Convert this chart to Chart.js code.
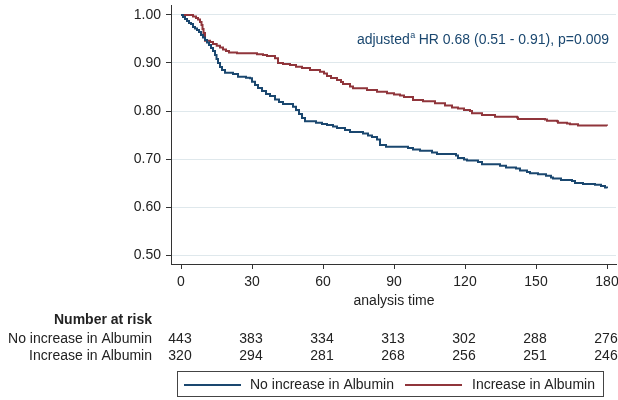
<!DOCTYPE html>
<html>
<head>
<meta charset="utf-8">
<script src="https://cdn.jsdelivr.net/npm/chart.js@4/dist/chart.umd.min.js"></script>
<style>
  html, body { margin: 0; padding: 0; background: #fff; }
  canvas { display: block; }
</style>
</head>
<body>
<canvas id="c" width="618" height="400" style="width:618px;height:400px"></canvas>
<script>
// ---- data ----
const seriesNames = ["No increase in Albumin", "Increase in Albumin"];
const xTicks = [0, 30, 60, 90, 120, 150, 180];
const yTicks = [0.50, 0.60, 0.70, 0.80, 0.90, 1.00];
const axisTitle = "analysis time";
const riskTitle = "Number at risk";
const riskNoIncrease = [443, 383, 334, 313, 302, 288, 276];
const riskIncrease = [320, 294, 281, 268, 256, 251, 246];

const timeNoIncrease = [0, 0.85, 1.69, 2.54, 3.38, 4.23, 5.07, 5.92, 6.76, 7.61, 8.45, 9.30, 10.14, 10.99, 11.83, 12.68, 13.52, 14.37, 15.0, 15.63, 16.48, 17.32, 18.59, 21.97, 24.08, 27.46, 29.15, 30.0, 31.27, 32.54, 34.23, 35.92, 37.61, 39.72, 41.41, 43.1, 47.32, 48.59, 49.86, 51.13, 52.39, 57.04, 59.58, 61.69, 64.23, 65.92, 69.3, 71.41, 76.9, 79.01, 80.7, 82.82, 84.08, 86.62, 95.92, 98.03, 100.99, 106.06, 108.17, 116.2, 117.04, 119.58, 120.85, 125.49, 127.18, 134.79, 137.32, 141.55, 143.24, 146.2, 147.46, 150.85, 154.23, 156.34, 157.18, 160.56, 165.21, 166.48, 169.86, 174.93, 177.46, 179.15, 180];
const survNoIncrease = [1, 0.9958, 0.9917, 0.9875, 0.9833, 0.9813, 0.975, 0.9719, 0.9688, 0.9646, 0.9583, 0.9531, 0.9479, 0.9427, 0.9375, 0.9313, 0.925, 0.9167, 0.9083, 0.9, 0.8917, 0.8854, 0.8798, 0.8771, 0.8715, 0.8694, 0.8681, 0.861, 0.8542, 0.8479, 0.8417, 0.8354, 0.8313, 0.824, 0.8188, 0.8146, 0.809, 0.8021, 0.7938, 0.7854, 0.7785, 0.7756, 0.7729, 0.7708, 0.7677, 0.7646, 0.7604, 0.7563, 0.7531, 0.749, 0.7458, 0.7406, 0.7292, 0.7256, 0.7229, 0.7198, 0.7173, 0.7135, 0.7104, 0.7073, 0.7021, 0.699, 0.6969, 0.6938, 0.689, 0.686, 0.6823, 0.6802, 0.676, 0.6729, 0.6702, 0.6681, 0.6652, 0.6615, 0.6594, 0.6563, 0.6542, 0.65, 0.6479, 0.6465, 0.6438, 0.6406, 0.639];

const timeIncrease = [0, 5.07, 6.34, 7.18, 8.03, 8.66, 9.08, 9.51, 10.14, 12.25, 13.52, 15.08, 16.48, 17.75, 19.01, 20.28, 23.66, 32.11, 34.65, 36.34, 39.72, 40.99, 43.1, 46.06, 48.59, 51.13, 54.51, 58.73, 60.42, 61.69, 63.38, 65.92, 67.61, 68.45, 71.41, 72.68, 78.59, 82.82, 87.04, 90.0, 92.54, 94.23, 98.03, 102.25, 107.32, 111.55, 114.51, 117.04, 119.58, 122.11, 122.96, 127.18, 132.68, 141.97, 142.39, 153.8, 154.65, 158.87, 159.3, 163.1, 164.37, 167.75, 180];
const survIncrease = [1, 0.9969, 0.9938, 0.9906, 0.9854, 0.9792, 0.9708, 0.9625, 0.9465, 0.9438, 0.9396, 0.936, 0.9323, 0.9281, 0.925, 0.9219, 0.9202, 0.9183, 0.9167, 0.9146, 0.9098, 0.9, 0.8979, 0.8958, 0.8923, 0.8896, 0.8854, 0.8819, 0.8781, 0.8729, 0.8688, 0.8646, 0.8604, 0.8563, 0.851, 0.8473, 0.8438, 0.8402, 0.8369, 0.8344, 0.8323, 0.8292, 0.8229, 0.8204, 0.816, 0.8115, 0.8073, 0.8052, 0.8021, 0.8, 0.7952, 0.7917, 0.7881, 0.7865, 0.7833, 0.7823, 0.7798, 0.7785, 0.7756, 0.774, 0.7723, 0.7698, 0.7694];

const hrPrefix = "adjusted";
const hrSup = "a";
const hrText = " HR 0.68 (0.51 - 0.91), p=0.009";

// ---- styles ----
const NAVY = "#1a476f";
const MAROON = "#90353b";
const FONT = "'Liberation Sans', Arial, Helvetica, sans-serif";
const FS = 14;
const TXT = "#222";

function toPoints(t, s) { return t.map((v, i) => ({ x: v, y: s[i] })); }

const overlay = {
  id: "overlay",
  afterDraw(chart) {
    const ctx = chart.ctx;
    const xs = chart.scales.x;
    ctx.save();
    ctx.fillStyle = TXT;
    ctx.textBaseline = "middle";
    const f = FS + "px " + FONT;
    // axis title
    ctx.font = f;
    ctx.textAlign = "center";
    ctx.fillText(axisTitle, (xs.getPixelForValue(0) + xs.getPixelForValue(180)) / 2, 301);
    // risk table
    ctx.textAlign = "right";
    ctx.font = "bold " + f;
    ctx.fillText(riskTitle, 152, 320);
    ctx.font = f;
    ctx.fillText(seriesNames[0], 152, 339);
    ctx.fillText(seriesNames[1], 152, 356);
    ctx.textAlign = "center";
    xTicks.forEach((t, i) => {
      const px = xs.getPixelForValue(t) - 1;
      ctx.fillText(String(riskNoIncrease[i]), px, 339);
      ctx.fillText(String(riskIncrease[i]), px, 356);
    });
    // legend box
    ctx.strokeStyle = "#444";
    ctx.lineWidth = 1;
    ctx.strokeRect(177.5, 371.5, 426, 25);
    ctx.lineWidth = 2;
    ctx.strokeStyle = NAVY;
    ctx.beginPath(); ctx.moveTo(184, 385); ctx.lineTo(241, 385); ctx.stroke();
    ctx.strokeStyle = MAROON;
    ctx.beginPath(); ctx.moveTo(405, 385); ctx.lineTo(462, 385); ctx.stroke();
    ctx.textAlign = "left";
    ctx.fillStyle = TXT;
    ctx.fillText(seriesNames[0], 250, 385);
    ctx.fillText(seriesNames[1], 472, 385);
    // HR annotation
    ctx.fillStyle = NAVY;
    const fs = "9px " + FONT;
    ctx.font = f;
    const w1 = ctx.measureText(hrPrefix).width;
    const w3 = ctx.measureText(hrText).width;
    ctx.font = fs;
    const w2 = ctx.measureText(hrSup).width;
    const right = 609;
    const x0 = right - (w1 + w2 + w3);
    ctx.font = f;
    ctx.fillText(hrPrefix, x0, 40);
    ctx.font = fs;
    ctx.fillText(hrSup, x0 + w1 + 0.5, 36);
    ctx.font = f;
    ctx.fillText(hrText, x0 + w1 + w2, 40);
    ctx.restore();
  }
};

new Chart(document.getElementById("c"), {
  type: "line",
  data: {
    datasets: [
      { label: seriesNames[0], data: toPoints(timeNoIncrease, survNoIncrease), borderColor: NAVY, borderWidth: 2, stepped: true, pointRadius: 0, fill: false },
      { label: seriesNames[1], data: toPoints(timeIncrease, survIncrease), borderColor: MAROON, borderWidth: 2, stepped: true, pointRadius: 0, fill: false }
    ]
  },
  options: {
    responsive: false,
    animation: false,
    layout: { padding: { top: 5, right: 2, bottom: 0, left: 0 } },
    plugins: { legend: { display: false }, tooltip: { enabled: false } },
    scales: {
      x: {
        type: "linear",
        min: -4.23,
        max: 183.8,
        afterFit: s => { s.height = 136; s.paddingLeft = 0; s.paddingRight = 0; },
        afterBuildTicks: s => { s.ticks = xTicks.map(v => ({ value: v })); },
        ticks: { font: { family: FONT, size: FS }, color: TXT, padding: 5, maxRotation: 0, autoSkip: false, callback: v => String(v) },
        grid: { drawOnChartArea: false, tickLength: 5, tickColor: "#333" },
        border: { color: "#333", width: 1 }
      },
      y: {
        type: "linear",
        min: 0.4813,
        max: 1.0208,
        afterFit: s => { s.width = 171; s.paddingTop = 0; s.paddingBottom = 0; },
        afterBuildTicks: s => { s.ticks = yTicks.map(v => ({ value: v })); },
        ticks: { font: { family: FONT, size: FS }, color: TXT, padding: 5, callback: v => Number(v).toFixed(2) },
        grid: { color: "#dfe8ec", lineWidth: 1, tickLength: 5, tickColor: "#333" },
        border: { color: "#333", width: 1 }
      }
    }
  },
  plugins: [overlay]
});
</script>
</body>
</html>
